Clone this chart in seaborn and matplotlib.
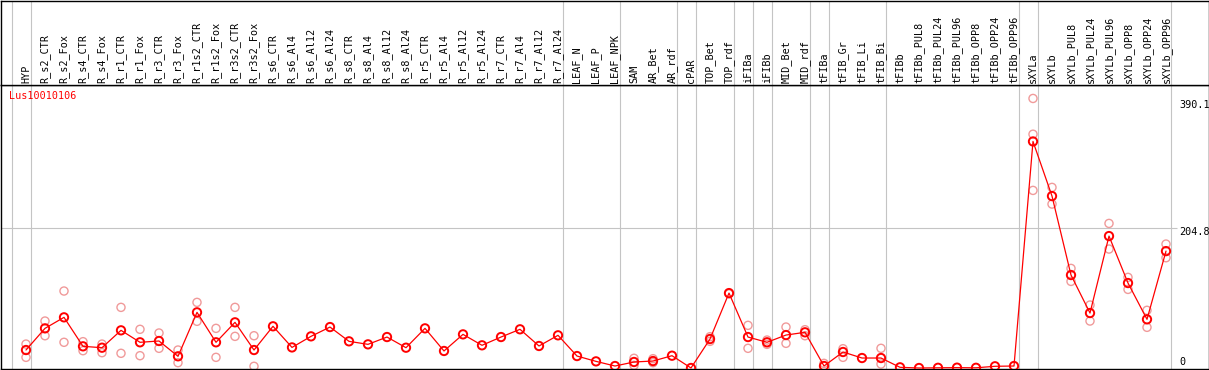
import numpy as np
import matplotlib
matplotlib.use("Agg")
import matplotlib.pyplot as plt
import seaborn as sns

# sample names along the x axis
samples = ["HYP",
           "R_s2_CTR", "R_s2_Fox", "R_s4_CTR", "R_s4_Fox", "R_r1_CTR", "R_r1_Fox",
           "R_r3_CTR", "R_r3_Fox", "R_r1s2_CTR", "R_r1s2_Fox", "R_r3s2_CTR", "R_r3s2_Fox",
           "R_s6_CTR", "R_s6_Al4", "R_s6_Al12", "R_s6_Al24", "R_s8_CTR", "R_s8_Al4",
           "R_s8_Al12", "R_s8_Al24", "R_r5_CTR", "R_r5_Al4", "R_r5_Al12", "R_r5_Al24",
           "R_r7_CTR", "R_r7_Al4", "R_r7_Al12", "R_r7_Al24",
           "LEAF_N", "LEAF_P", "LEAF_NPK",
           "SAM", "AR_Bet", "AR_rdf",
           "cPAR",
           "TOP_Bet", "TOP_rdf",
           "iFIBa", "iFIBb",
           "MID_Bet", "MID_rdf",
           "tFIBa",
           "tFIB_Gr", "tFIB_Li", "tFIB_Bi",
           "tFIBb", "tFIBb_PUL8", "tFIBb_PUL24", "tFIBb_PUL96", "tFIBb_OPP8",
           "tFIBb_OPP24", "tFIBb_OPP96",
           "sXYLa",
           "sXYLb", "sXYLb_PUL8", "sXYLb_PUL24", "sXYLb_PUL96", "sXYLb_OPP8",
           "sXYLb_OPP24", "sXYLb_OPP96"]

# number of samples in each tissue block (separated by grey lines)
group_sizes = [1, 28, 3, 3, 1, 2, 1, 1, 2, 1, 3, 7, 1, 7]

# mean expression per sample
means = [26.3, 58, 74.1, 31.7, 29.7, 55.1, 37.6, 39.5, 17.1, 81.4, 37.6, 66.8, 26.3,
         61, 30.1, 46.3, 59.9, 39, 34.6, 45.3, 29.7, 58, 24.9, 49.2, 33.2, 45.3, 56.6,
         32.2, 47.8,
         17.5, 9.7, 2.9,
         8.8, 10.2, 18,
         0,
         42.4, 109.6,
         45.3, 37.6,
         48.2, 52.2,
         2.9,
         23.4, 14.6, 14.6,
         1, 0, 0.3, 0.5, 0.3, 2.5, 2.9,
         331.4,
         251.5, 136, 80.4, 193, 124.3, 71.2, 171]

# individual replicates (long format)
rep_samples = ["HYP", "HYP", "R_s2_CTR", "R_s2_CTR", "R_s2_Fox", "R_s2_Fox",
               "R_s4_CTR", "R_s4_CTR", "R_s4_Fox", "R_s4_Fox", "R_r1_CTR", "R_r1_CTR",
               "R_r1_Fox", "R_r1_Fox", "R_r3_CTR", "R_r3_CTR", "R_r3_Fox", "R_r3_Fox",
               "R_r1s2_CTR", "R_r1s2_CTR", "R_r1s2_Fox", "R_r1s2_Fox",
               "R_r3s2_CTR", "R_r3s2_CTR", "R_r3s2_Fox", "R_r3s2_Fox",
               "SAM", "SAM", "AR_Bet", "AR_Bet",
               "TOP_Bet", "TOP_Bet", "TOP_rdf",
               "iFIBa", "iFIBa", "iFIBb", "iFIBb", "MID_Bet", "MID_Bet",
               "MID_rdf", "MID_rdf", "tFIBa",
               "tFIB_Gr", "tFIB_Gr", "tFIB_Bi", "tFIB_Bi",
               "sXYLa", "sXYLa", "sXYLa", "sXYLb", "sXYLb",
               "sXYLb_PUL8", "sXYLb_PUL8", "sXYLb_PUL24", "sXYLb_PUL24",
               "sXYLb_PUL96", "sXYLb_PUL96", "sXYLb_OPP8", "sXYLb_OPP8",
               "sXYLb_OPP24", "sXYLb_OPP24", "sXYLb_OPP96", "sXYLb_OPP96"]
rep_values = [35, 15.6, 68.7, 47.2, 112.6, 37.6,
              38.5, 25.3, 35, 22.4, 88.7, 21.5,
              56.6, 18, 51.2, 28.8, 26.3, 7.8,
              96, 68.3, 58, 15.6,
              88.7, 46.3, 47.2, 2.5,
              14.2, 3.9, 13.6, 7.8,
              45.8, 39, 108.5,
              62.4, 28.8, 40.9, 34.6, 59.9, 36.1,
              56, 47.2, 6.8,
              28.2, 15.6, 28.8, 5.8,
              394.3, 342, 259.8, 264.2, 239.8,
              145.7, 126.7, 92.1, 68.7,
              211.5, 174, 132.6, 115,
              84.4, 59.5, 181.3, 161.3]

y_ticks = [390.1, 204.8, 0]
gene = "Lus10010106"

sns.set_style("white")
plt.rcParams["font.family"] = ["DejaVu Sans Mono"]

W, H = 1209, 370
fig = plt.figure(figsize=(W / 100, H / 100), dpi=100)
head_px = 85
bottom_px = 369

ax = fig.add_axes([0.5 / W, 1 - bottom_px / H, 1208 / W, (bottom_px - head_px) / H])
hax = fig.add_axes([0.5 / W, 1 - head_px / H, 1208 / W, head_px / H - 0.5 / H], sharex=ax)

x = np.arange(len(samples))
pos = {s: i for i, s in enumerate(samples)}
rep_x = [pos[s] for s in rep_samples]

# pixel -> data mapping (point i sits at 26 + 19*i px, 0 at y=368 px)
px_per_x = 19.0
x0_px = 26.0
ax.set_xlim((0.5 - x0_px) / px_per_x, (1208.5 - x0_px) / px_per_x)
scale = 0.6836
ax.set_ylim((368 - bottom_px) / scale, (368 - head_px) / scale)
hax.set_ylim(0, 1)

grid_col = "#c4c4c4"
bounds = [-0.75] + list(np.cumsum(group_sizes) - 0.75)
for b in bounds:
    ax.axvline(b, color=grid_col, lw=0.8, zorder=0)
    hax.axvline(b, color=grid_col, lw=0.8, zorder=0)

label_x = (1179 - x0_px) / px_per_x
ax.hlines(204.8, ax.get_xlim()[0], label_x - 0.1, color=grid_col, lw=0.8, zorder=0)

sns.scatterplot(x=rep_x, y=rep_values, ax=ax, marker="o", s=34,
                facecolor="none", edgecolor="#f09a9a", linewidth=1.0, zorder=2)
sns.lineplot(x=x, y=means, ax=ax, color="#ff0000", linewidth=0.9, zorder=3)
sns.scatterplot(x=x, y=means, ax=ax, marker="o", s=36,
                facecolor="none", edgecolor="#ff0000", linewidth=1.4, zorder=4)

for v in y_ticks:
    if v == 0:
        ax.text(label_x, v + 1.5, "0", fontsize=7.3, va="bottom", ha="left", color="black")
    else:
        ax.text(label_x, v + 1.5, f"{v}", fontsize=7.3, va="top", ha="left", color="black")

ax.text(9 / 1208, 1 - 6 / 284, gene, transform=ax.transAxes, color="#ff0000",
        fontsize=7.3, va="top", ha="left")

for i, s in enumerate(samples):
    hax.text(i, 2 / head_px, s, rotation=90, ha="center", va="bottom",
             fontsize=7.3, color="black")

for a in (ax, hax):
    a.set_xticks([])
    a.set_yticks([])
    a.set_xlabel("")
    a.set_ylabel("")
    for sp in a.spines.values():
        sp.set_color("black")
        sp.set_linewidth(1.0)

fig.savefig("out.png", dpi=100)
